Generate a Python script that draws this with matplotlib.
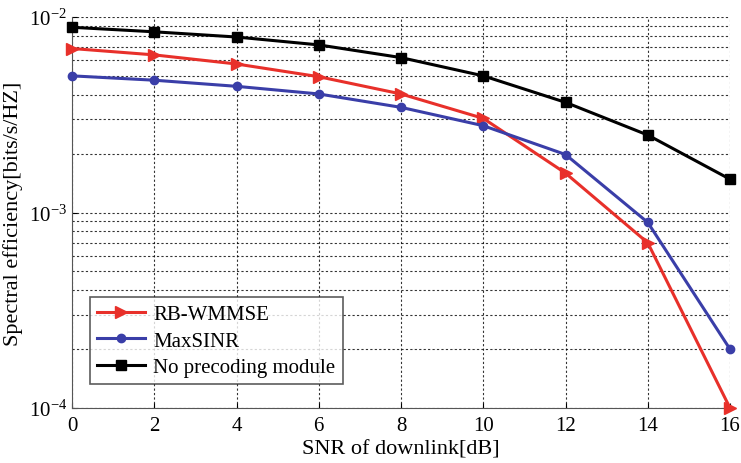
import numpy as np
import matplotlib
matplotlib.use("Agg")
import matplotlib.pyplot as plt
from matplotlib.ticker import LogLocator, NullFormatter

plt.rcParams["font.family"] = ["Liberation Serif", "DejaVu Serif"]
plt.rcParams["mathtext.fontset"] = "stix"

# DATA
snr = [0, 2, 4, 6, 8, 10, 12, 14, 16]
rb_wmmse = [0.0069, 0.0064, 0.00575, 0.00495, 0.00404, 0.00303, 0.00159, 0.0007, 0.0001]
max_sinr = [0.0050, 0.00475, 0.00442, 0.00404, 0.00345, 0.00278, 0.00198, 0.00089, 0.0002]
no_precoding = [0.00886, 0.0084, 0.0079, 0.0072, 0.0062, 0.0050, 0.00366, 0.00249, 0.00148]

# FIGURE
fig = plt.figure(figsize=(7.41, 4.64), dpi=100)
ax = fig.add_axes([72 / 741, 55 / 464, 658 / 741, 391 / 464])

ax.plot(snr, rb_wmmse, color="#e8302a", marker=">", markersize=8, linewidth=2.2, label="RB-WMMSE", clip_on=False, zorder=3)
ax.plot(snr, max_sinr, color="#3a3ea8", marker="o", markersize=6, linewidth=2.2, label="MaxSINR", clip_on=False, zorder=3)
ax.plot(snr, no_precoding, color="black", marker="s", markersize=7, linewidth=2.2, label="No precoding module", clip_on=False, zorder=3)

ax.set_yscale("log")
ax.set_xlim(0, 16)
ax.set_ylim(1e-4, 1e-2)
ax.set_xticks(snr)
ax.yaxis.set_major_locator(LogLocator(base=10, numticks=5))
ax.yaxis.set_minor_locator(LogLocator(base=10, subs=np.arange(2, 10), numticks=20))
ax.yaxis.set_minor_formatter(NullFormatter())

ax.grid(True, which="both", linestyle=(0, (2, 2)), color="black", linewidth=0.8, alpha=0.8)
ax.tick_params(which="both", direction="in", labelsize=15, top=False, right=False)
ax.tick_params(axis="x", pad=6)
ax.tick_params(which="minor", length=0)
for s in ["top", "right"]:
    ax.spines[s].set_visible(False)
for s in ["left", "bottom"]:
    ax.spines[s].set_color("#555555")

ax.set_xlabel("SNR of downlink[dB]", fontsize=16, labelpad=3)
ax.set_ylabel("Spectral efficiency[bits/s/HZ]", fontsize=16, labelpad=4)

leg = ax.legend(loc="lower left", bbox_to_anchor=(0.027, 0.061), borderaxespad=0, fontsize=15,
                frameon=True, fancybox=False, edgecolor="#333333", handlelength=2.3,
                borderpad=0.35, labelspacing=0.32, handletextpad=0.4)
leg.get_frame().set_linewidth(1.2)

fig.savefig("out.png", dpi=100)
